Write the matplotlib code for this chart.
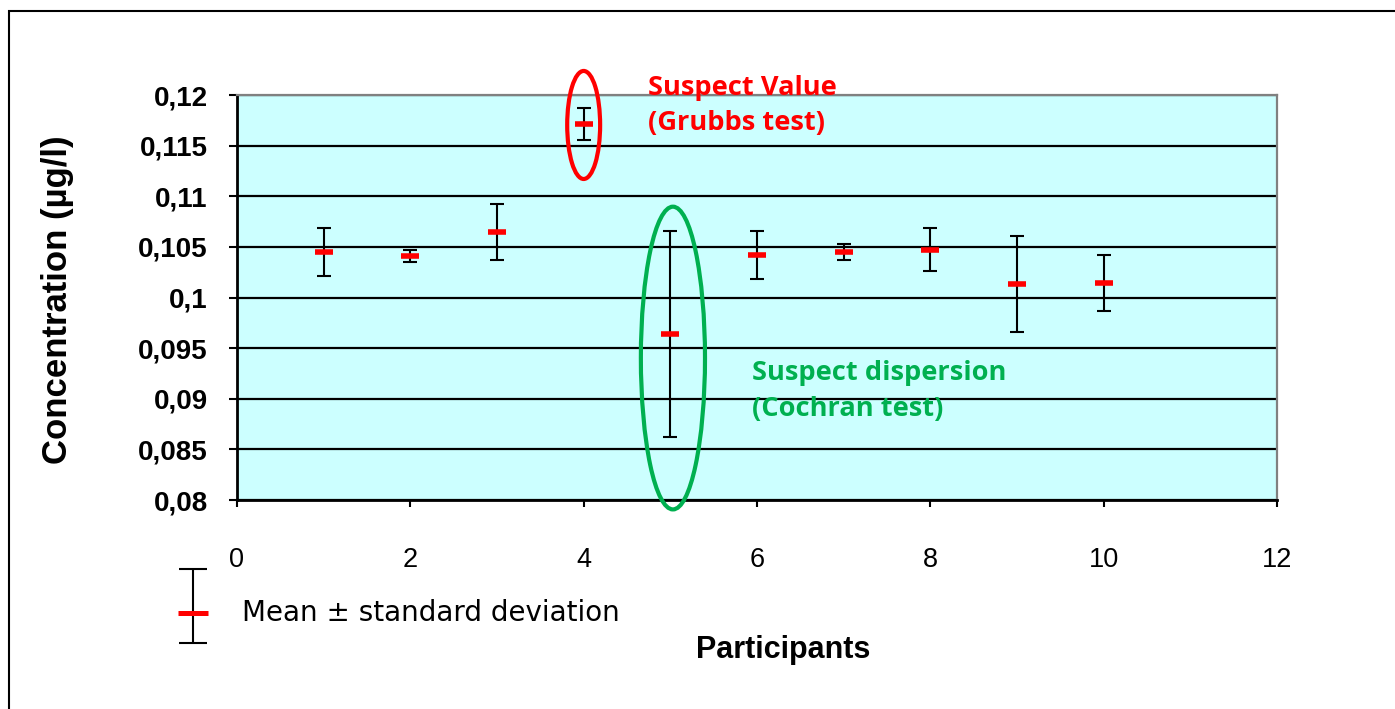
import matplotlib
matplotlib.use("Agg")
import matplotlib.pyplot as plt
from matplotlib.patches import Ellipse, Rectangle

# data
participants = [1, 2, 3, 4, 5, 6, 7, 8, 9, 10]
means = [0.10446, 0.10410, 0.10646, 0.11712, 0.09641, 0.10423, 0.10450, 0.10474, 0.10135, 0.10145]
stds = [0.00238, 0.00063, 0.00277, 0.00156, 0.01016, 0.00237, 0.00080, 0.00209, 0.00476, 0.00278]

yticks = [0.08, 0.085, 0.09, 0.095, 0.1, 0.105, 0.11, 0.115, 0.12]
ytick_labels = ['0,08', '0,085', '0,09', '0,095', '0,1', '0,105', '0,11', '0,115', '0,12']
xticks = [0, 2, 4, 6, 8, 10, 12]

W, H = 1395, 709
fig = plt.figure(figsize=(W / 100, H / 100), dpi=100)

# frame around the whole chart (right/bottom edges fall outside the image)
fig.patches.append(Rectangle((9 / W, -0.1), 1.2, 1.1 - 11 / H, transform=fig.transFigure,
                             fill=False, edgecolor='black', lw=1.5))

ax = fig.add_axes([237 / W, 1 - 500 / H, (1277 - 237) / W, (500 - 95) / H])
ax.set_facecolor('#CCFFFF')
ax.set_xlim(0, 12)
ax.set_ylim(0.08, 0.12)

ax.set_axisbelow(True)
ax.yaxis.grid(True, color='black', lw=1.6)
ax.xaxis.grid(False)

for side in ['top', 'right']:
    ax.spines[side].set_color('#808080')
    ax.spines[side].set_linewidth(1.6)
for side in ['left', 'bottom']:
    ax.spines[side].set_color('black')
    ax.spines[side].set_linewidth(2)

ax.set_yticks(yticks)
ax.set_yticklabels(ytick_labels, fontfamily='Liberation Sans', fontweight='bold', fontsize=20)
ax.set_xticks(xticks)
ax.set_xticklabels([str(t) for t in xticks], fontfamily='Liberation Sans', fontsize=19.5)
ax.tick_params(axis='y', direction='out', length=6, width=1.5, pad=15)
ax.tick_params(axis='x', direction='out', length=5, width=1.5, pad=29)

ax.errorbar(participants, means, yerr=stds, fmt='none', ecolor='black',
            elinewidth=1.5, capsize=5, capthick=1.5, zorder=3)
ax.plot(participants, means, ls='none', marker='_', ms=13, mew=4, color='red', zorder=4)

# suspect annotations
note_font = dict(fontfamily='Open Sans', fontweight='bold', fontsize=19.6,
                 va='baseline', ha='left')
ax.add_patch(Ellipse((4.0, 0.11704), 0.38, 0.01067, fill=False, edgecolor='red', lw=3,
                     clip_on=False, zorder=5))
ax.add_patch(Ellipse((5.03, 0.09402), 0.74, 0.0299, fill=False, edgecolor='#00B050', lw=3,
                     clip_on=False, zorder=5))
ax.text(4.74, 0.12, 'Suspect Value', color='red', clip_on=False, **note_font)
ax.text(4.74, 0.11654, '(Grubbs test)', color='red', **note_font)
ax.text(5.94, 0.09190, 'Suspect dispersion', color='#00B050', **note_font)
ax.text(5.94, 0.08830, '(Cochran test)', color='#00B050', **note_font)

fig.text(58 / W, 1 - 300 / H, 'Concentration (µg/l)', rotation=90, ha='center', va='center',
         fontfamily='Liberation Sans', fontweight='bold', fontsize=25)
fig.text(783 / W, 1 - 650 / H, 'Participants', ha='center', va='center',
         fontfamily='Liberation Sans', fontweight='bold', fontsize=22)

# legend key drawn by hand
lax = fig.add_axes([173 / W, 1 - 643 / H, 40 / W, 74 / H])
lax.axis('off')
lax.set_xlim(-1, 1)
lax.set_ylim(-1, 1)
lax.errorbar([0], [0], yerr=[1], fmt='none', ecolor='black', elinewidth=1.5,
             capsize=10.4, capthick=1.5, clip_on=False)
lax.plot([0], [-0.19], marker='_', ms=21, mew=3.6, color='red', clip_on=False)
fig.text(242 / W, 1 - 613 / H, 'Mean ± standard deviation', ha='left', va='center', fontsize=20)

fig.savefig('out.png', dpi=100)
